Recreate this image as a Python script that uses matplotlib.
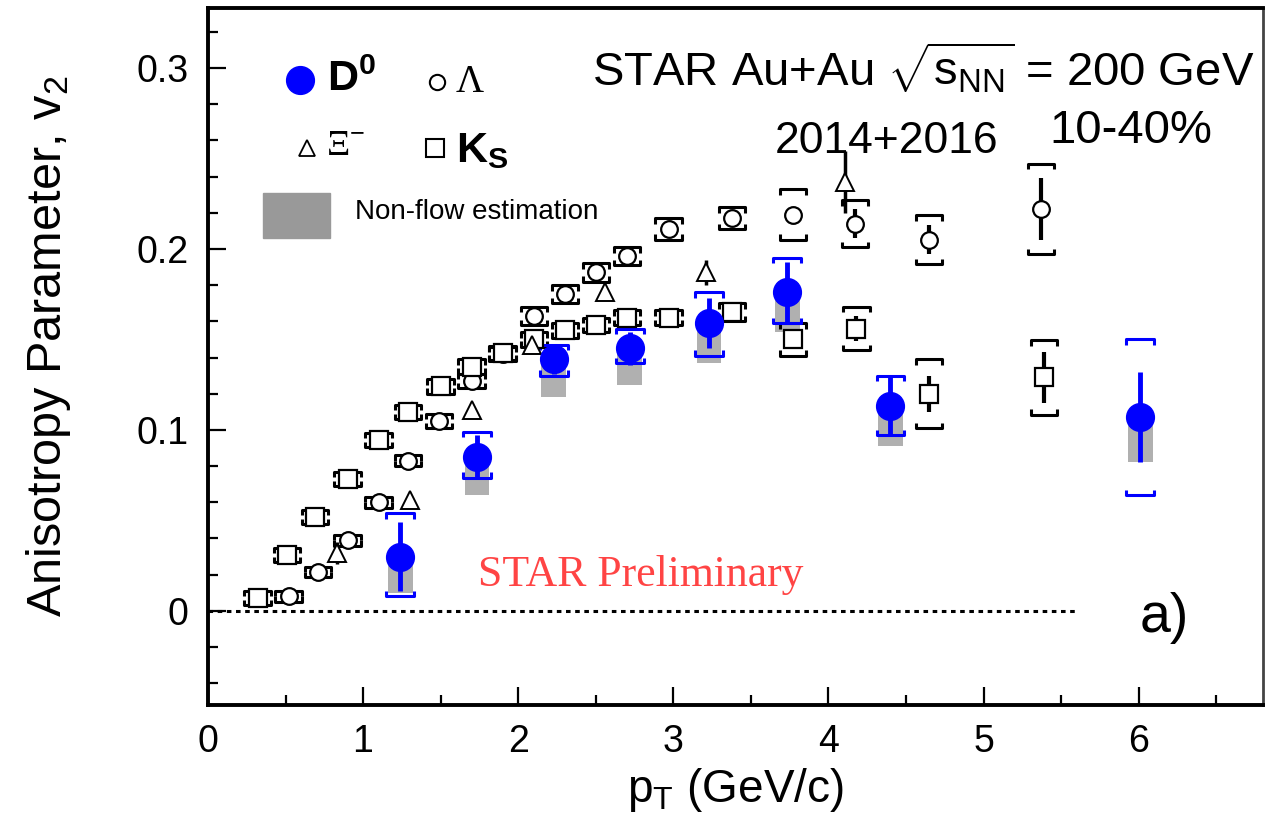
import numpy as np
import matplotlib.pyplot as plt
from matplotlib.ticker import MultipleLocator

plt.rcParams['font.family'] = ['Liberation Sans', 'DejaVu Sans']
plt.rcParams['mathtext.fontset'] = 'custom'
plt.rcParams['mathtext.rm'] = 'Liberation Sans'
plt.rcParams['mathtext.it'] = 'Liberation Sans:italic'
plt.rcParams['mathtext.bf'] = 'Liberation Sans:bold'

# D0 (2014+2016)
d0_pt = [1.24, 1.735, 2.23, 2.72, 3.23, 3.735, 4.40, 6.01]
d0_v2 = [0.030, 0.085, 0.139, 0.145, 0.159, 0.176, 0.113, 0.107]
d0_stat = [0.019, 0.012, 0.008, 0.009, 0.014, 0.017, 0.016, 0.025]
d0_sys_hi = [0.024, 0.014, 0.008, 0.011, 0.017, 0.019, 0.017, 0.043]
d0_sys_lo = [0.022, 0.0115, 0.009, 0.008, 0.018, 0.017, 0.016, 0.043]
d0_nonflow_low = [0.010, 0.064, 0.118, 0.125, 0.137, 0.154, 0.091, 0.082]

# Lambda
lam_pt = [0.52, 0.71, 0.90, 1.10, 1.29, 1.49, 1.70, 1.90, 2.10, 2.30, 2.50, 2.70,
          2.97, 3.38, 3.77, 4.17, 4.65, 5.37]
lam_v2 = [0.008, 0.0215, 0.039, 0.060, 0.083, 0.105, 0.127, 0.142, 0.163, 0.175,
          0.187, 0.196, 0.211, 0.217, 0.219, 0.214, 0.205, 0.222]
lam_stat = [0.001, 0.001, 0.001, 0.001, 0.001, 0.001, 0.002, 0.002, 0.002, 0.002,
            0.002, 0.002, 0.002, 0.002, 0.003, 0.008, 0.008, 0.017]
lam_sys = [0.003, 0.003, 0.003, 0.003, 0.003, 0.004, 0.004, 0.004, 0.005, 0.005,
           0.005, 0.005, 0.006, 0.006, 0.014, 0.013, 0.0135, 0.025]

# Xi-
xi_pt = [0.83, 1.30, 1.70, 2.09, 2.56, 3.21, 4.11]
xi_v2 = [0.032, 0.061, 0.111, 0.147, 0.176, 0.187, 0.237]
xi_stat = [0.006, 0.002, 0.002, 0.003, 0.003, 0.007, 0.017]

# K0s
ks_pt = [0.32, 0.51, 0.69, 0.90, 1.10, 1.29, 1.50, 1.70, 1.90, 2.10, 2.30, 2.50,
         2.70, 2.97, 3.38, 3.77, 4.18, 4.65, 5.39]
ks_v2 = [0.007, 0.031, 0.052, 0.073, 0.0945, 0.110, 0.124, 0.135, 0.1425, 0.150,
         0.155, 0.158, 0.162, 0.162, 0.165, 0.150, 0.156, 0.120, 0.129]
ks_stat = [0.001, 0.001, 0.001, 0.001, 0.001, 0.001, 0.001, 0.001, 0.001, 0.001,
           0.001, 0.001, 0.001, 0.001, 0.002, 0.003, 0.007, 0.010, 0.014]
ks_sys = [0.004, 0.004, 0.004, 0.004, 0.004, 0.004, 0.004, 0.004, 0.004, 0.004,
          0.004, 0.004, 0.004, 0.004, 0.005, 0.009, 0.012, 0.019, 0.0205]


def draw_brackets(ax, x, y, up, down, color, half_w=0.085, leg=0.003, lw=2.2):
    for xi, yi, u, d in zip(x, y, up, down):
        top = yi + u
        bot = yi - d
        ax.plot([xi - half_w, xi - half_w, xi + half_w, xi + half_w],
                [top - leg, top, top, top - leg], color=color, lw=lw,
                solid_capstyle='butt', zorder=3)
        ax.plot([xi - half_w, xi - half_w, xi + half_w, xi + half_w],
                [bot + leg, bot, bot, bot + leg], color=color, lw=lw,
                solid_capstyle='butt', zorder=3)


fig = plt.figure(figsize=(12.82, 8.25), dpi=100)
ax = fig.add_axes([0.1622, 0.1455, 0.8228, 0.8445])

ax.set_xlim(0, 6.8)
ax.set_ylim(-0.052, 0.333)

# zero line
ax.plot([0, 5.6], [0, 0], color='black', lw=2.2, ls=(0, (1.5, 1.5)), zorder=1)

# non-flow boxes
d0_pt_a = np.array(d0_pt)
d0_v2_a = np.array(d0_v2)
low = np.array(d0_nonflow_low)
ax.bar(d0_pt_a, d0_v2_a - low, bottom=low, width=0.16, color='#b0b0b0',
       edgecolor='none', zorder=2)

# systematics
draw_brackets(ax, lam_pt, lam_v2, lam_sys, lam_sys, 'black')
draw_brackets(ax, ks_pt, ks_v2, ks_sys, ks_sys, 'black')
draw_brackets(ax, d0_pt, d0_v2, d0_sys_hi, d0_sys_lo, '#0000ff', half_w=0.09)

# data points
ax.errorbar(lam_pt, lam_v2, yerr=lam_stat, fmt='o', ms=12, mfc='white',
            mec='black', mew=1.6, ecolor='black', elinewidth=3, capsize=0, zorder=4)
ax.errorbar(ks_pt, ks_v2, yerr=ks_stat, fmt='s', ms=13, mfc='white',
            mec='black', mew=1.6, ecolor='black', elinewidth=3, capsize=0, zorder=4)
ax.errorbar(xi_pt, xi_v2, yerr=xi_stat, fmt='^', ms=13, mfc='white',
            mec='black', mew=1.4, ecolor='black', elinewidth=2.5, capsize=0, zorder=4)
ax.errorbar(d0_pt, d0_v2, yerr=d0_stat, fmt='o', ms=20, color='#0000ff',
            ecolor='#0000ff', elinewidth=3.5, capsize=0, zorder=5)

# axes styling
for side in ['left', 'bottom', 'top']:
    ax.spines[side].set_linewidth(2.8)
ax.spines['right'].set_linewidth(2.0)
ax.spines['right'].set_color('#444444')
ax.xaxis.set_major_locator(MultipleLocator(1))
ax.xaxis.set_minor_locator(MultipleLocator(0.5))
ax.yaxis.set_major_locator(MultipleLocator(0.1))
ax.yaxis.set_minor_locator(MultipleLocator(0.02))
ax.tick_params(which='both', direction='in', top=False, right=False,
               labelsize=27, width=1.6)
ax.tick_params(which='major', length=13, pad=14)
ax.tick_params(which='minor', length=7)
ax.set_yticks([0, 0.1, 0.2, 0.3])
ax.set_yticklabels(['0', '0.1', '0.2', '0.3'])

ax.set_xlabel(r'p$_{\mathrm{T}}$ (GeV/c)', fontsize=33, labelpad=4)
ax.set_ylabel(r'Anisotropy Parameter, v$_{\mathrm{2}}$', fontsize=35)
ax.yaxis.set_label_coords(-0.128, 0.515)

# legend
tr = ax.transAxes
ax.plot([0.087], [0.897], 'o', ms=20, color='#0000ff', transform=tr)
ax.text(0.113, 0.897, r'$\mathbf{D}^{\mathbf{0}}$', fontsize=31, va='center', transform=tr)
ax.plot([0.217], [0.894], 'o', ms=11, mfc='white', mec='black', mew=1.5, transform=tr)
ax.text(0.235, 0.893, 'Λ', fontsize=28, va='center', family='Liberation Serif', transform=tr)
ax.plot([0.094], [0.799], '^', ms=11, mfc='white', mec='black', mew=1.3, transform=tr)
ax.text(0.112, 0.801, 'Ξ$^{-}$', fontsize=26, va='center', family='Liberation Serif', transform=tr)
ax.plot([0.215], [0.80], 's', ms=13, mfc='white', mec='black', mew=1.5, transform=tr)
ax.text(0.235, 0.795, r'$\mathbf{K}_{\mathbf{S}}$', fontsize=31, va='center', transform=tr)
ax.add_patch(plt.Rectangle((0.052, 0.670), 0.0636, 0.0646, color='#999999',
                           transform=tr, zorder=6))
ax.text(0.139, 0.707, 'Non-flow estimation', fontsize=20, va='center',
        family=['Liberation Sans Narrow', 'Liberation Sans'], transform=tr)

# annotations
ax.text(0.9924, 0.8895, r'STAR Au+Au $\sqrt{\mathrm{s}_{\mathrm{NN}}}$ = 200 GeV', fontsize=34,
        ha='right', va='baseline', transform=tr)
ax.text(0.6436, 0.792, '2014+2016', fontsize=32, ha='center', va='baseline', transform=tr)
ax.text(0.875, 0.806, '10-40%', fontsize=34, ha='center', va='baseline', transform=tr)
ax.text(0.907, 0.1047, 'a)', fontsize=40, ha='center', va='baseline', transform=tr)
ax.text(0.410, 0.1865, 'STAR Preliminary', fontsize=31.5, ha='center', va='center',
        color='#ff3030', alpha=0.9, family='Liberation Serif', transform=tr)

fig.savefig('out.png', dpi=100)
